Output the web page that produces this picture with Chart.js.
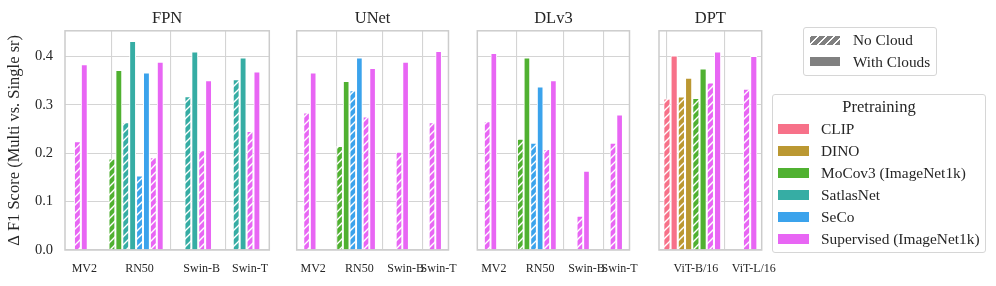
<!DOCTYPE html>
<html><head><meta charset="utf-8">
<script src="https://cdn.jsdelivr.net/npm/chart.js@4.4.0/dist/chart.umd.min.js"></script>
<style>
body{margin:0;width:996px;height:286px;background:#fff;position:relative;overflow:hidden;font-family:'Liberation Serif',serif;color:#262626}
canvas{position:absolute;top:0}
.lg{position:absolute;background:#fff;border:1px solid #d6d6d6;border-radius:3px;box-sizing:border-box}
.t{position:absolute;white-space:nowrap}
.p{position:absolute;box-sizing:border-box}
</style></head><body>
<div id="root"></div>
<script>
// ---------- data ----------
const SUP = 'Supervised (ImageNet1k)';
const MOCO = 'MoCov3 (ImageNet1k)';
const pretrainings = ['CLIP', 'DINO', MOCO, 'SatlasNet', 'SeCo', SUP];
const palette = ['#f77189', '#bb9832', '#50b131', '#36ada4', '#3ba3ec', '#e866f4'];
const conditions = ['No Cloud', 'With Clouds'];
const panelTitles = ['FPN', 'UNet', 'DLv3', 'DPT'];
const yLabel = 'Δ F1 Score (Multi vs. Single sr)';
const yTicks = [0.0, 0.1, 0.2, 0.3, 0.4];

const fpnModels = ['MV2', 'RN50', 'Swin-B', 'Swin-T'];
const fpnPretrain = [[SUP], [MOCO, 'SatlasNet', 'SeCo', SUP], ['SatlasNet', SUP], ['SatlasNet', SUP]];
const fpnNoCloud = [[0.224], [0.188, 0.263, 0.153, 0.191], [0.317, 0.205], [0.352, 0.245]];
const fpnWithClouds = [[0.383], [0.371, 0.431, 0.366, 0.388], [0.409, 0.350], [0.397, 0.368]];

const unetModels = ['MV2', 'RN50', 'Swin-B', 'Swin-T'];
const unetPretrain = [[SUP], [MOCO, 'SeCo', SUP], [SUP], [SUP]];
const unetNoCloud = [[0.283], [0.214, 0.329, 0.275], [0.202], [0.263]];
const unetWithClouds = [[0.366], [0.348, 0.397, 0.375], [0.388], [0.410]];

const dlv3Models = ['MV2', 'RN50', 'Swin-B', 'Swin-T'];
const dlv3Pretrain = [[SUP], [MOCO, 'SeCo', SUP], [SUP], [SUP]];
const dlv3NoCloud = [[0.265], [0.229, 0.221, 0.208], [0.070], [0.221]];
const dlv3WithClouds = [[0.406], [0.397, 0.337, 0.350], [0.163], [0.279]];

const dptModels = ['ViT-B/16', 'ViT-L/16'];
const dptPretrain = [['CLIP', 'DINO', MOCO, SUP], [SUP]];
const dptNoCloud = [[0.312, 0.316, 0.313, 0.345], [0.332]];
const dptWithClouds = [[0.401, 0.355, 0.374, 0.409], [0.400]];

// ---------- layout ----------
const FONT = "'Liberation Serif', 'DejaVu Serif', serif";
const TXT = '#262626';
const layouts = [
  {left: 0,   width: 282, padL: 0,    padR: 12.7, yWidth: 65},
  {left: 277, width: 193, padL: 19.7, padR: 20,   yWidth: 0},
  {left: 457, width: 194, padL: 20.3, padR: 20,   yWidth: 0},
  {left: 639, width: 153, padL: 20,   padR: 30.3, yWidth: 0},
];
const plotWidths = [204.3, 153.3, 153.7, 102.7];

const panels = [
  [fpnModels, fpnPretrain, fpnNoCloud, fpnWithClouds],
  [unetModels, unetPretrain, unetNoCloud, unetWithClouds],
  [dlv3Models, dlv3Pretrain, dlv3NoCloud, dlv3WithClouds],
  [dptModels, dptPretrain, dptNoCloud, dptWithClouds],
];

let allVals = [];
panels.forEach(p => { p[2].forEach(a => allVals.push(...a)); p[3].forEach(a => allVals.push(...a)); });
const yMax = 1.05 * Math.max(...allVals);

function makeHatch(ctx, color, bg) {
  const s = 8;
  const c = document.createElement('canvas');
  c.width = s; c.height = s;
  const x = c.getContext('2d');
  x.fillStyle = color; x.fillRect(0, 0, s, s);
  x.strokeStyle = bg || '#ffffff'; x.lineWidth = 1.4;
  x.beginPath();
  x.moveTo(0, s); x.lineTo(s, 0);
  x.moveTo(-s / 2, s / 2); x.lineTo(s / 2, -s / 2);
  x.moveTo(s / 2, s * 1.5); x.lineTo(s * 1.5, s / 2);
  x.stroke();
  return ctx.createPattern(c, 'repeat');
}

const framePlugin = {
  id: 'frame',
  afterDatasetsDraw(chart) {
    const {ctx, chartArea: a} = chart;
    ctx.save();
    ctx.strokeStyle = '#cccccc';
    ctx.lineWidth = 1.5;
    ctx.strokeRect(a.left, a.top, a.right - a.left, a.bottom - a.top);
    ctx.restore();
  }
};

const root = document.getElementById('root');

panels.forEach((pd, pi) => {
  const [models, pretrain, noCloud, withClouds] = pd;
  const L = layouts[pi];
  const cv = document.createElement('canvas');
  cv.width = L.width; cv.height = 286;
  cv.style.left = L.left + 'px';
  cv.style.width = L.width + 'px'; cv.style.height = '286px';
  root.appendChild(cv);
  const ctx = cv.getContext('2d');

  const pts = [], colors = [], ticks = [], labels = [];
  let pos = 0;
  models.forEach((m, g) => {
    const start = pos;
    const n = pretrain[g].length * 2;
    pretrain[g].forEach((p, k) => {
      const col = palette[pretrainings.indexOf(p)];
      pts.push({x: start + 2 * k, y: noCloud[g][k]});
      colors.push(makeHatch(ctx, col));
      pts.push({x: start + 2 * k + 1, y: withClouds[g][k]});
      colors.push(col);
    });
    ticks.push(start + n / 2);
    labels.push(m);
    pos = start + n + 3;
  });
  const last = pos - 4;
  const margin = 0.05 * (last + 0.9) + 0.45;
  const xMin = -margin, xMax = last + margin;
  const ppu = plotWidths[pi] / (xMax - xMin);

  new Chart(cv, {
    type: 'bar',
    data: {datasets: [{
      data: pts,
      backgroundColor: colors,
      borderColor: '#ffffff',
      borderWidth: 1,
      borderSkipped: 'start',
      barThickness: ppu * 0.9,
      grouped: false
    }]},
    options: {
      responsive: false,
      animation: false,
      devicePixelRatio: 1,
      layout: {padding: {left: L.padL, right: L.padR, top: 0, bottom: 0}},
      plugins: {
        legend: {display: false},
        tooltip: {enabled: false},
        title: {
          display: true, text: panelTitles[pi], fullSize: false,
          font: {family: FONT, size: 16.5, weight: 'normal'}, color: TXT,
          padding: {top: 8.5, bottom: 2.5}
        }
      },
      scales: {
        x: {
          type: 'linear', min: xMin, max: xMax, offset: false,
          grid: {color: '#d4d4d4', lineWidth: 1.1, drawTicks: false},
          border: {display: false},
          ticks: {autoSkip: false, maxRotation: 0, minRotation: 0, padding: 12,
            font: {family: FONT, size: 12}, color: TXT,
            callback: (v, i) => labels[i]},
          afterBuildTicks: s => { s.ticks = ticks.map(v => ({value: v})); },
          afterFit: s => { s.height = 36; }
        },
        y: {
          type: 'linear', min: 0, max: yMax,
          grid: {color: '#d4d4d4', lineWidth: 1.1, drawTicks: false},
          border: {display: false},
          ticks: {display: pi === 0, padding: 12, font: {family: FONT, size: 14.5}, color: TXT,
            callback: v => v.toFixed(1)},
          afterBuildTicks: s => { s.ticks = yTicks.map(v => ({value: v})); },
          afterFit: s => { s.width = L.yWidth; },
          title: {display: pi === 0, text: yLabel, color: TXT,
            font: {family: FONT, size: 16.5, weight: 'normal'}, padding: {top: 5, bottom: 0}}
        }
      }
    },
    plugins: [framePlugin]
  });
});

// ---------- legends (HTML) ----------
function el(cls, css, text) {
  const d = document.createElement('div');
  d.className = cls;
  Object.assign(d.style, css);
  if (text !== undefined) d.textContent = text;
  document.body.appendChild(d);
  return d;
}
const hatchCss = c => `repeating-linear-gradient(-45deg, ${c} 0px, ${c} 4px, #ffffff 4px, #ffffff 5.6px)`;

// condition legend
el('lg', {left: '803px', top: '27px', width: '134px', height: '49px'});
const condY = [40, 61.5];
conditions.forEach((c, i) => {
  el('p', {left: '810px', top: (condY[i] - 4.5) + 'px', width: '30px', height: '9px',
    background: i === 0 ? hatchCss('#808080') : '#808080'});
  el('t', {left: '853px', top: (condY[i] - 10) + 'px', height: '20px', lineHeight: '20px', fontSize: '15.3px'}, c);
});

// pretraining legend
el('lg', {left: '772px', top: '94px', width: '214px', height: '159px'});
el('t', {left: '772px', width: '214px', textAlign: 'center', top: '97px', height: '20px', lineHeight: '20px', fontSize: '16.5px'}, 'Pretraining');
pretrainings.forEach((p, i) => {
  const cy = 129 + i * 21.9;
  el('p', {left: '777px', top: (cy - 6) + 'px', width: '33px', height: '12px', background: palette[i], border: '1px solid #fff'});
  el('t', {left: '821px', top: (cy - 10) + 'px', height: '20px', lineHeight: '20px', fontSize: '15.4px'}, p);
});
</script>
</body></html>
